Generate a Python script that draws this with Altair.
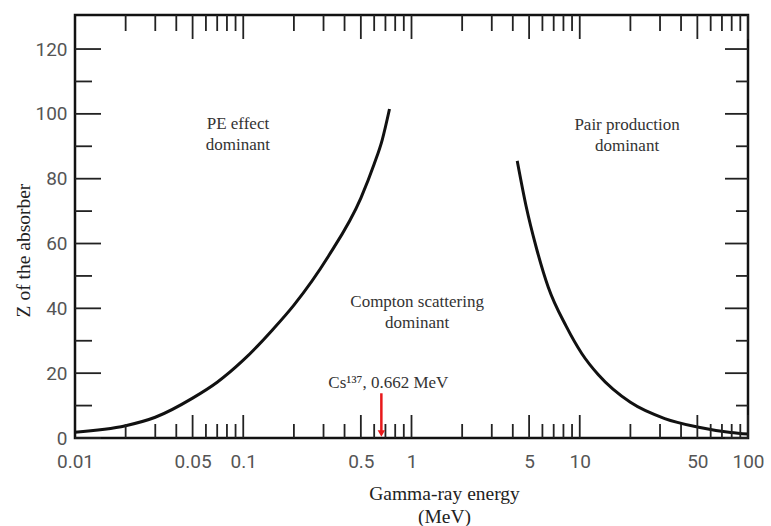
import altair as alt
import pandas as pd

# Photoelectric / Compton boundary (equal interaction probability)
pe_energy = [0.01, 0.02, 0.03, 0.05, 0.07, 0.1, 0.15, 0.2, 0.32, 0.5, 0.6, 0.67, 0.74]
pe_z = [1.8, 3.8, 6.4, 12.3, 17.2, 24.0, 33.5, 41.0, 56.0, 74.0, 84.5, 92.0, 101.5]

# Compton / pair production boundary
pair_energy = [4.25, 4.8, 5.5, 6.5, 8.3, 10.3, 12.9, 20.0, 32.0, 50.0, 79.0, 100.0]
pair_z = [85.5, 71.5, 59.0, 46.5, 34.5, 26.0, 19.5, 11.0, 6.0, 3.4, 1.7, 1.2]

# Axis labels and tick positions
x_labels = [0.01, 0.05, 0.1, 0.5, 1, 5, 10, 50, 100]
decades = [0.01, 0.1, 1, 10]
x_long = [d * m for d in decades for m in (5, 10)]
x_short = [round(d * m, 4) for d in decades for m in (2, 3, 4, 6, 7, 8, 9)]
y_labels = [0, 20, 40, 60, 80, 100, 120]
y_minor = [10, 30, 50, 70, 90, 110]

# Region annotations (anchored at the first line)
ann_energy = [0.093, 19.1, 1.08]
ann_z = [96.9, 96.5, 42.0]
ann_text = [["PE effect", "dominant"], ["Pair production", "dominant"], ["Compton scattering", "dominant"]]

cs_energy = 0.662
cs_label = "Cs\u00b9\u00b3\u2077, 0.662 MeV"

W, H = 673, 423
SERIF = "Liberation Serif"

xs = alt.Scale(type="log", domain=[0.01, 100], nice=False)
ys = alt.Scale(domain=[0, 130.5], nice=False, zero=False)

curves = pd.concat([
    pd.DataFrame({"energy": pe_energy, "z": pe_z, "edge": "pe"}),
    pd.DataFrame({"energy": pair_energy, "z": pair_z, "edge": "pair"}),
])

x_axis = alt.Axis(
    values=x_labels, format="~g", ticks=False, tickSize=0, domain=False, grid=False,
    labelFont="Roboto", labelFontSize=19, labelColor="#555", labelPadding=14,
    labelFlush=False, labelOverlap=False,
    title=["Gamma-ray energy", "(MeV)"], titleFont=SERIF, titleFontSize=19.5,
    titleFontWeight="normal", titleColor="#222", titleX=369, titleY=46,
    titleBaseline="top", titleLineHeight=23, titleAlign="center",
)
y_axis = alt.Axis(
    values=y_labels, ticks=False, tickSize=0, domain=False, grid=False,
    labelFont="Roboto", labelFontSize=19, labelColor="#555", labelPadding=8,
    title="Z of the absorber", titleFont=SERIF, titleFontSize=19.5,
    titleFontWeight="normal", titleColor="#222", titleX=-52, titleY=235,
    titleAngle=-90, titleBaseline="middle", titleAlign="center",
)

lines = alt.Chart(curves).mark_line(
    interpolate="monotone", color="#111", strokeWidth=3
).encode(
    x=alt.X("energy:Q", scale=xs, axis=x_axis),
    y=alt.Y("z:Q", scale=ys, axis=y_axis),
    detail="edge:N",
)

def xticks(vals, length, top):
    df = pd.DataFrame({"energy": vals})
    y0, y1 = (0, length) if top else (H, H - length)
    return alt.Chart(df).mark_rule(color="#222", strokeWidth=1.8).encode(
        x=alt.X("energy:Q", scale=xs), y=alt.value(y0), y2=alt.value(y1)
    )

def yticks(vals, length, right):
    df = pd.DataFrame({"z": vals})
    x0, x1 = (W, W - length) if right else (0, length)
    return alt.Chart(df).mark_rule(color="#222", strokeWidth=1.8).encode(
        y=alt.Y("z:Q", scale=ys), x=alt.value(x0), x2=alt.value(x1)
    )

ticks = [
    xticks(x_long, 23, False), xticks(x_short, 14, False),
    xticks(x_long, 24, True), xticks(x_short, 16, True),
    yticks(y_labels, 26, False), yticks(y_minor, 17, False),
    yticks(y_labels, 23, True), yticks(y_minor, 12, True),
]

ann_df = pd.DataFrame({"energy": ann_energy, "z": ann_z, "text": ann_text})
notes = alt.Chart(ann_df).mark_text(
    font=SERIF, fontSize=17, color="#333", align="center", baseline="middle", lineHeight=21
).encode(x=alt.X("energy:Q", scale=xs), y=alt.Y("z:Q", scale=ys), text="text")

cs_df = pd.DataFrame({"energy": [cs_energy], "z": [17.0], "zt": [13.8], "zb": [2.0], "zh": [1.4], "text": [cs_label]})
cs_text = alt.Chart(cs_df).mark_text(
    font=SERIF, fontSize=17, color="#333", align="center", baseline="middle", dx=7
).encode(x=alt.X("energy:Q", scale=xs), y=alt.Y("z:Q", scale=ys), text="text")
cs_shaft = alt.Chart(cs_df).mark_rule(color="#e8191b", strokeWidth=2.5).encode(
    x=alt.X("energy:Q", scale=xs), y=alt.Y("zt:Q", scale=ys), y2="zb:Q"
)
cs_head = alt.Chart(cs_df).mark_point(
    shape="triangle-down", filled=True, color="#e8191b", size=55, opacity=1
).encode(x=alt.X("energy:Q", scale=xs), y=alt.Y("zh:Q", scale=ys))

chart = alt.layer(lines, *ticks, notes, cs_shaft, cs_head, cs_text).properties(
    width=W, height=H,
    autosize=alt.AutoSizeParams(type="none"),
    padding={"left": 75, "top": 15, "right": 23, "bottom": 88},
    background="white",
).configure_view(stroke="#111", strokeWidth=2.5)

chart.save("out.html", embed_options={"renderer": "svg", "actions": False})
